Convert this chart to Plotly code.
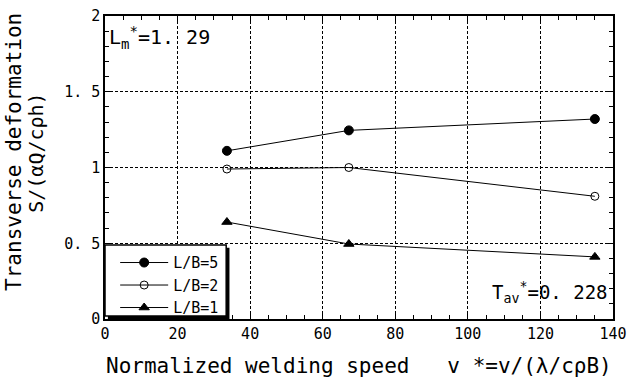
import plotly.graph_objects as go

v_star = [33.6, 67.2, 135.0]
s_lb5 = [1.11, 1.245, 1.32]
s_lb2 = [0.99, 1.00, 0.81]
s_lb1 = [0.64, 0.495, 0.41]
series_names = ["L/B=5", "L/B=2", "L/B=1"]
x_ticks = [0, 20, 40, 60, 80, 100, 120, 140]
y_ticks = [0, 0.5, 1, 1.5, 2]
y_tick_labels = ["0", "0. 5", "1", "1. 5", "2"]

FONT = "DejaVu Sans Mono"

fig = go.Figure()
styles = [
    dict(symbol="circle", size=9, color="black", line=dict(color="black", width=1)),
    dict(symbol="circle-open", size=8, color="black", line=dict(color="black", width=1)),
    dict(symbol="triangle-up", size=9, color="black", line=dict(color="black", width=1)),
]
for name, ys, mk in zip(series_names, [s_lb5, s_lb2, s_lb1], styles):
    fig.add_trace(go.Scatter(x=v_star, y=ys, mode="lines+markers", name=name,
                             line=dict(color="black", width=1), marker=mk))

axis_common = dict(
    showline=True, linecolor="black", linewidth=1.5, mirror="allticks",
    ticks="inside", ticklen=6, tickcolor="black", tickwidth=1,
    showgrid=True, gridcolor="black", gridwidth=1, griddash="3px,2px",
    zeroline=False, automargin=False,
    tickfont=dict(family=FONT, size=15, color="black"),
)

fig.update_xaxes(range=[0, 140], tickvals=x_ticks,
                 minor=dict(ticks="inside", dtick=5, ticklen=4, tickcolor="black", showgrid=False),
                 **axis_common)
fig.update_yaxes(range=[0, 2], tickvals=y_ticks, ticktext=y_tick_labels,
                 minor=dict(ticks="inside", dtick=0.1, ticklen=4, tickcolor="black", showgrid=False),
                 **axis_common)

# axis titles
fig.add_annotation(x=0.5, y=-0.155, xref="paper", yref="paper", xanchor="center", yanchor="middle",
                   text="Normalized welding speed   v *=v/(λ/cρB)", showarrow=False,
                   font=dict(family=FONT, size=21, color="black"))
fig.add_annotation(x=-0.178, y=0.55, xref="paper", yref="paper", xanchor="center", yanchor="middle",
                   text="Transverse deformation", textangle=-90, showarrow=False,
                   font=dict(family=FONT, size=21, color="black"))
fig.add_annotation(x=-0.135, y=0.55, xref="paper", yref="paper", xanchor="center", yanchor="middle",
                   text="S/(αQ/cρh)", textangle=-90, showarrow=False,
                   font=dict(family=FONT, size=20, color="black"))

# legend box with shadow
fig.add_shape(type="rect", xref="x", yref="y", x0=0.8, x1=34.3, y0=0.0, y1=0.47,
              fillcolor="black", line=dict(width=0), layer="above")
fig.add_shape(type="rect", xref="x", yref="y", x0=0.0, x1=33.4, y0=0.02, y1=0.488,
              fillcolor="white", line=dict(color="black", width=1.5), layer="above")

fig.add_annotation(x=0.5, y=1.965, xref="x", yref="y", xanchor="left", yanchor="top",
                   text="L<sub>m</sub><sup>*</sup>=1. 29", showarrow=False,
                   font=dict(family=FONT, size=20, color="black"))
fig.add_annotation(x=0.995, y=0.14, xref="paper", yref="paper", xanchor="right", yanchor="top",
                   text="T<sub>av</sub><sup>*</sup>=0. 228", showarrow=False,
                   font=dict(family=FONT, size=19, color="black"))

fig.update_layout(
    width=629, height=383,
    margin=dict(l=105, r=16, t=16, b=64),
    plot_bgcolor="white", paper_bgcolor="white",
    showlegend=True,
    legend=dict(x=0.02, y=0.24, xanchor="left", yanchor="top",
                bgcolor="rgba(0,0,0,0)", borderwidth=0,
                font=dict(family=FONT, size=15, color="black"),
                tracegroupgap=0, itemsizing="trace", itemwidth=48),
)

fig.write_html("out.html")
